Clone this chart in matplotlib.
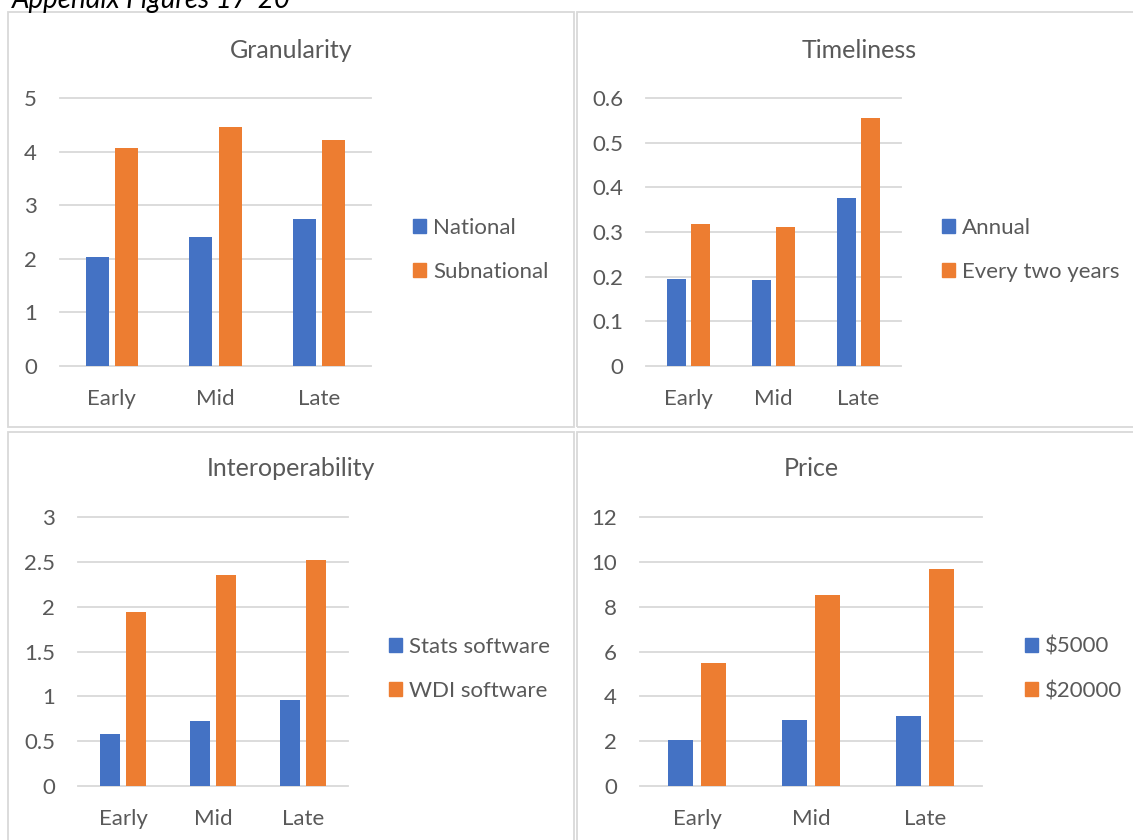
import matplotlib
matplotlib.use("Agg")
import matplotlib.pyplot as plt
import numpy as np
from matplotlib.patches import Patch, Rectangle

plt.rcParams["font.family"] = ["Lato", "DejaVu Sans"]

W, H = 1133, 840
BLUE = "#4472C4"
ORANGE = "#ED7D31"
GRID = "#D9D9D9"
TEXT = "#595959"

categories = ["Early", "Mid", "Late"]

granularity_national = [2.04, 2.40, 2.75]
granularity_subnational = [4.06, 4.45, 4.22]
timeliness_annual = [0.194, 0.192, 0.377]
timeliness_two_years = [0.319, 0.312, 0.555]
interop_stats = [0.585, 0.73, 0.954]
interop_wdi = [1.938, 2.352, 2.52]
price_5000 = [2.04, 2.95, 3.13]
price_20000 = [5.49, 8.51, 9.69]

granularity_ticks = [0, 1, 2, 3, 4, 5]
timeliness_ticks = [0, 0.1, 0.2, 0.3, 0.4, 0.5, 0.6]
interop_ticks = [0, 0.5, 1, 1.5, 2, 2.5, 3]
price_ticks = [0, 2, 4, 6, 8, 10, 12]


def box(x0, y0, x1, y1):
    return [x0 / W, 1 - y1 / H, (x1 - x0) / W, (y1 - y0) / H]


def panel(fig, plot_px, title, title_xy, legend_xy, series, labels, ticks):
    ax = fig.add_axes(box(*plot_px))
    x = np.arange(len(categories))
    width = 0.222
    offset = 0.143
    ax.bar(x - offset, series[0], width, color=BLUE, zorder=2)
    ax.bar(x + offset, series[1], width, color=ORANGE, zorder=2)
    ax.set_xlim(-0.5, len(categories) - 0.5)
    ax.set_ylim(0, ticks[-1])
    for t in ticks:
        ax.axhline(t, color=GRID, lw=1.3, zorder=1, clip_on=False)
    ax.set_yticks(ticks)
    ax.set_yticklabels(["%g" % t for t in ticks])
    ax.set_xticks(x)
    ax.set_xticklabels(categories)
    ax.tick_params(axis="y", length=0, pad=16.5, labelsize=16, labelcolor=TEXT)
    ax.tick_params(axis="x", length=0, pad=16.5, labelsize=16, labelcolor=TEXT)
    for s in ax.spines.values():
        s.set_visible(False)
    fig.text(title_xy[0] / W, 1 - title_xy[1] / H, title, ha="center", va="center",
             fontsize=18, color=TEXT)
    handles = [Patch(color=BLUE), Patch(color=ORANGE)]
    fig.legend(handles, labels, loc="center left",
               bbox_to_anchor=(legend_xy[0] / W, 1 - legend_xy[1] / H),
               frameon=False, fontsize=16, labelcolor=TEXT,
               handlelength=0.6, handleheight=0.6, handletextpad=0.3,
               labelspacing=1.1, borderpad=0, borderaxespad=0)
    return ax


fig = plt.figure(figsize=(W / 100, H / 100), dpi=100)

# panel frames
for x0, y0, x1, y1 in [(7.5, 12, 574, 427), (576.5, 12, 1145, 427),
                       (7.5, 432, 574, 850), (576.5, 432, 1145, 850)]:
    fig.patches.append(Rectangle((x0 / W, 1 - y1 / H), (x1 - x0) / W, (y1 - y0) / H,
                                 transform=fig.transFigure, fill=False,
                                 edgecolor=GRID, lw=1.3))

# caption is clipped at the top edge, as in the source page
fig.text(12 / W, 1 - 8 / H, "Appendix Figures 17-20", ha="left", va="baseline",
         fontsize=20, style="italic", color="#000000")

panel(fig, (60, 98, 371, 366), "Granularity", (291, 50), (413, 250),
      [granularity_national, granularity_subnational], ["National", "Subnational"],
      granularity_ticks)
panel(fig, (646, 98, 901, 366), "Timeliness", (859, 50), (942, 250),
      [timeliness_annual, timeliness_two_years], ["Annual", "Every two years"],
      timeliness_ticks)
panel(fig, (78, 517, 348, 786), "Interoperability", (291, 469), (389, 669),
      [interop_stats, interop_wdi], ["Stats software", "WDI software"],
      interop_ticks)
panel(fig, (640, 517, 982, 786), "Price", (811, 469), (1025, 669),
      [price_5000, price_20000], ["$5000", "$20000"],
      price_ticks)

fig.savefig("out.png", dpi=100)
